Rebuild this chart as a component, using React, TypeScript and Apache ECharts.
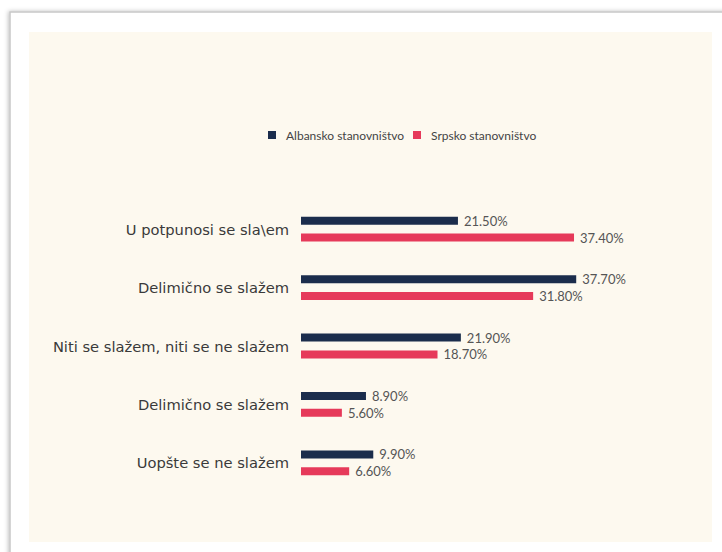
import React, { useEffect, useRef } from "react";
import * as echarts from "echarts";

const categories = [
  "U potpunosi se sla\\em",
  "Delimično se slažem",
  "Niti se slažem, niti se ne slažem",
  "Delimično se slažem",
  "Uopšte se ne slažem",
];
const seriesNames = ["Albansko stanovništvo", "Srpsko stanovništvo"];
const albanian = [21.5, 37.7, 21.9, 8.9, 9.9];
const serbian = [37.4, 31.8, 18.7, 5.6, 6.6];

const FONT = "Lato";
const CAT_FONT = "DejaVu Sans";

export default function App() {
  const ref = useRef<HTMLDivElement>(null);
  useEffect(() => {
    if (!ref.current) return;
    const chart = echarts.init(ref.current, undefined, { renderer: "svg" });
    const labelCfg = {
      show: true,
      position: "right",
      distance: 6,
      color: "#555",
      fontSize: 13,
      fontFamily: FONT,
      formatter: (p: any) => Number(p.value).toFixed(2) + "%",
    };
    chart.setOption({
      animation: false,
      backgroundColor: "#ffffff",
      graphic: [
        {
          type: "rect",
          z: -10,
          shape: { x: 10, y: 12, width: 760, height: 560 },
          style: {
            fill: "#ffffff",
            stroke: "#c8c8c8",
            lineWidth: 1.5,
            shadowBlur: 4,
            shadowColor: "rgba(0,0,0,0.25)",
            shadowOffsetX: -1,
          },
          silent: true,
        },
        {
          type: "rect",
          z: -9,
          shape: { x: 29, y: 32, width: 683, height: 510 },
          style: { fill: "#fdf9ef" },
          silent: true,
        },
      ],
      legend: {
        top: 129,
        left: 268,
        padding: 0,
        itemWidth: 8,
        itemHeight: 8,
        itemGap: 9,
        icon: "rect",
        textStyle: {
          color: "#444",
          fontSize: 12,
          fontFamily: FONT,
          padding: [0, 0, 0, 5],
        },
        data: seriesNames,
      },
      grid: { left: 301, top: 200, width: 292, height: 292, containLabel: false },
      xAxis: {
        type: "value",
        min: 0,
        max: 40,
        show: false,
      },
      yAxis: {
        type: "category",
        inverse: true,
        data: categories,
        axisLine: { show: false },
        axisTick: { show: false },
        axisLabel: {
          margin: 12,
          color: "#3a3a3a",
          fontSize: 14.7,
          fontFamily: CAT_FONT,
        },
      },
      series: [
        {
          name: seriesNames[0],
          type: "bar",
          data: albanian,
          barWidth: 8,
          barGap: "110%",
          itemStyle: { color: "#1b2d4c" },
          label: labelCfg,
        },
        {
          name: seriesNames[1],
          type: "bar",
          data: serbian,
          barWidth: 8,
          itemStyle: { color: "#e63a5a" },
          label: labelCfg,
        },
      ],
    });
    return () => chart.dispose();
  }, []);
  return (
    <div
      ref={ref}
      style={{ position: "fixed", left: 0, top: 0, width: 722, height: 552 }}
    />
  );
}
